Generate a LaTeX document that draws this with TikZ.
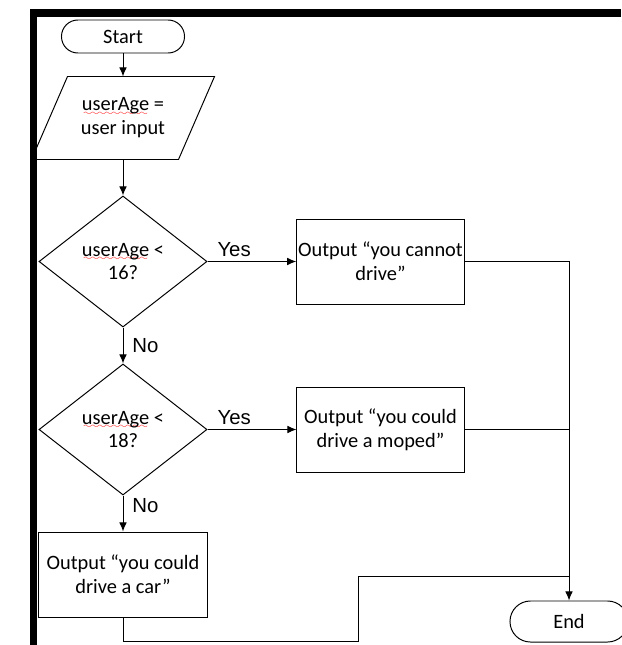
\documentclass[tikz,border=0pt]{standalone}
\usepackage{fontspec}
\setmainfont{Carlito}
\newfontfamily\labelfont{Liberation Sans}
\usetikzlibrary{shapes.geometric,arrows.meta}
\font\wavefont=lasy6
\newcommand{\typo}[1]{\setbox0\hbox{#1}\rlap{\color{red}\lower3pt\hbox to\wd0{\cleaders\hbox{\wavefont\char58}\hfil}}#1}

\begin{document}
\begin{tikzpicture}[x=0.025cm,y=-0.025cm,line width=0.7pt,font=\fontsize{14.5}{17}\selectfont]
	\tikzstyle{term}=[draw,rounded corners=.41cm,minimum width=3.075cm,minimum height=.825cm,inner sep=0pt];
	\tikzstyle{decide}=[draw,diamond,aspect=1.28,minimum width=4.2cm,minimum height=3.275cm,inner sep=0pt,align=center];
	\tikzstyle{outbox}=[draw,rectangle,minimum width=4.175cm,minimum height=2.125cm,inner sep=1pt,align=center];
	\tikzstyle{arr}=[-{Latex[length=6.5pt,width=5.5pt]}];
	\tikzstyle{yn}=[font=\labelfont\fontsize{14.5}{16}\selectfont];
	\useasboundingbox (0,0) rectangle (621,645);
	\node[term] (start) at (123,36.5) {Start};
	\node[minimum width=3.65cm,minimum height=2.05cm,align=center,inner sep=0pt] (inp) at (123,118) {\typo{userAge} =\\user input};
	\draw ([xshift=.45cm]inp.north west) -- ([xshift=.45cm]inp.north east) -- ([xshift=-.45cm]inp.south east) -- ([xshift=-.45cm]inp.south west) -- cycle;
	\node[decide] (q1) at (123,261.5) {\typo{userAge} <\\16?};
	\node[decide] (q2) at (123,429.5) {\typo{userAge} <\\18?};
	\node[outbox] (out1) at (380.5,261.5) {Output “you cannot\\drive”};
	\node[outbox] (out2) at (380.5,429.5) {Output “you could\\drive a moped”};
	\node[outbox,minimum width=4.2cm] (out3) at (123,574.5) {Output “you could\\drive a car”};
	\node[term,minimum width=2.95cm,minimum height=1.025cm,rounded corners=.51cm] (end) at (569,621.5) {End};
	\coordinate (dip) at (358,641);
	\coordinate (join) at (569,576);
	\draw[arr] (start) -- (inp);
	\draw[arr] (inp) -- (q1);
	\draw[arr] (q1) -- node[yn,pos=.3,above]{Yes} (out1);
	\draw[arr] (q1) -- node[yn,right,xshift=3pt]{No} (q2);
	\draw[arr] (q2) -- node[yn,pos=.3,above]{Yes} (out2);
	\draw[arr] (q2) -- node[yn,pos=.27,right,xshift=3pt]{No} (out3);
	\draw[arr] (out1) -| (end);
	\draw (out2) -- (out2 -| end);
	\draw (out3) |- (dip) |- (join);
	% frame edges of the screenshot
	\fill (30,9) rectangle (37,645);
	\fill (30,9) rectangle (621,17);
\end{tikzpicture}
\end{document}
